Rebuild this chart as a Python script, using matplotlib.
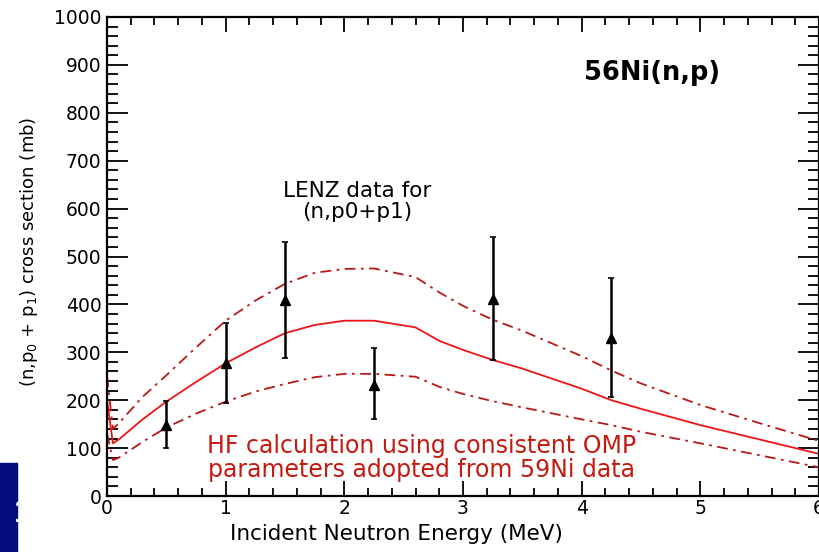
import matplotlib
matplotlib.use('Agg')
import matplotlib.pyplot as plt
import numpy as np
from matplotlib.ticker import MultipleLocator
from matplotlib.patches import Rectangle

# ------------ data -------------------------------------------- #
energy = [0.0, 0.05, 0.1, 0.3, 0.5, 0.75, 1.0, 1.25, 1.5, 1.75, 2.0, 2.25, 2.6, 2.8,
          3.0, 3.25, 3.5, 4.0, 4.25, 4.5, 5.0, 5.5, 6.0]
hf_mid = [200, 110, 118, 160, 197, 238, 277, 310, 340, 357, 366, 366, 352, 324,
          305, 284, 266, 224, 200, 182, 148, 118, 88]
hf_up = [250, 140, 152, 207, 252, 310, 366, 408, 443, 466, 474, 475, 457, 425,
         397, 368, 345, 292, 262, 235, 190, 152, 115]
hf_low = [130, 75, 80, 113, 143, 172, 197, 218, 234, 248, 255, 255, 249, 228,
          213, 198, 185, 160, 148, 134, 110, 85, 60]

lenz_e = [0.5, 1.0, 1.5, 2.25, 3.25, 4.25]
lenz_xs = [148, 278, 409, 232, 411, 330]
lenz_lo = [100, 195, 289, 160, 284, 207]
lenz_hi = [199, 362, 530, 310, 541, 456]

lbl_font = 'DejaVu Sans'
dark_red = '#b81818'
txt_red = '#c41a10'

# ------------------- plotting --------------------------#
plt.rcParams['font.family'] = lbl_font

fig = plt.figure(figsize=(8.2, 5.52), dpi=100)
ax = fig.add_axes([107/820, 1-496/552, 712/820, 479/552])

ax.plot(energy, hf_mid, c='#ee1515', lw=1.3)
ax.plot(energy, hf_up, c=dark_red, lw=1.3, ls=(0, (6, 3, 1.5, 3)))
ax.plot(energy, hf_low, c=dark_red, lw=1.3, ls=(0, (6, 3, 1.5, 3)))

xs = np.array(lenz_xs)
yerr = [xs-np.array(lenz_lo), np.array(lenz_hi)-xs]
ax.errorbar(lenz_e, lenz_xs, yerr=yerr, fmt='^', c='k', ms=7, elinewidth=1.8,
            capsize=2.5, capthick=1.2)

ax.text(2.11, 614, 'LENZ data for\n(n,p0+p1)', ha='center', va='center',
        fontsize=15.5, linespacing=1.05)
ax.text(4.59, 883, '56Ni(n,p)', ha='center', va='center', fontsize=18.5,
        fontweight='bold')
ax.text(2.65, 79, 'HF calculation using consistent OMP\nparameters adopted from 59Ni data',
        ha='center', va='center', fontsize=17, color=txt_red, linespacing=0.98)

ax.set(xlim=(0, 6), ylim=(0, 1000))
ax.xaxis.set_major_locator(MultipleLocator(1))
ax.xaxis.set_minor_locator(MultipleLocator(0.2))
ax.yaxis.set_major_locator(MultipleLocator(100))
ax.yaxis.set_minor_locator(MultipleLocator(20))
ax.tick_params(axis='both', which='both', direction='in', top=True, right=True,
               labelsize=13.5, width=1.3)
ax.tick_params(axis='y', which='major', length=15, pad=4)
ax.tick_params(axis='y', which='minor', length=8)
ax.tick_params(axis='x', which='major', length=11, pad=2)
ax.tick_params(axis='x', which='minor', length=6)
for sp in ax.spines.values():
    sp.set_linewidth(1.6)

ax.set_xlabel('Incident Neutron Energy (MeV)', fontsize=15.5)
ax.xaxis.set_label_coords(0.406, -0.058)
ax.set_ylabel('(n,p$_0$ + p$_1$) cross section (mb)', fontsize=13)
ax.yaxis.set_label_coords(-0.094, 0.51)

# bit of slide background at lower left
fig.patches.append(Rectangle((0, 0), 17/820, 89/552, transform=fig.transFigure,
                             color='#020c7c', zorder=0))
fig.text(14/820, 1-522/552, '1', color='white', fontsize=24, fontweight='bold',
         family='Liberation Sans', va='baseline', ha='left')

plt.savefig('out.png', dpi=100)
